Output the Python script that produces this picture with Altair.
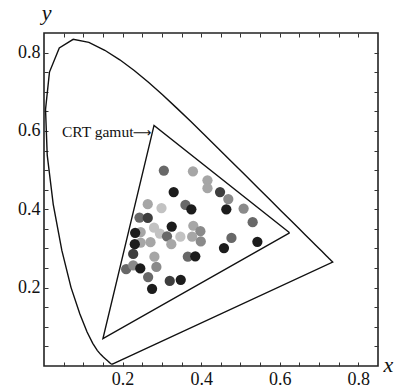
import altair as alt
import pandas as pd

# CIE 1931 spectral locus (380-700 nm, 5 nm steps), closed by the line of purples
locus_x = [0.1741, 0.1740, 0.1738, 0.1736, 0.1733, 0.1730, 0.1726, 0.1721, 0.1714, 0.1703,
           0.1689, 0.1669, 0.1644, 0.1611, 0.1566, 0.1510, 0.1440, 0.1355, 0.1241, 0.1096,
           0.0913, 0.0687, 0.0454, 0.0235, 0.0082, 0.0039, 0.0139, 0.0389, 0.0743, 0.1142,
           0.1547, 0.1929, 0.2296, 0.2658, 0.3016, 0.3373, 0.3731, 0.4087, 0.4441, 0.4788,
           0.5125, 0.5448, 0.5752, 0.6029, 0.6270, 0.6482, 0.6658, 0.6801, 0.6915, 0.7006,
           0.7079, 0.7140, 0.7190, 0.7230, 0.7260, 0.7283, 0.7300, 0.7311, 0.7320, 0.7327,
           0.7334, 0.7340, 0.7344, 0.7346, 0.7347]
locus_y = [0.0050, 0.0050, 0.0049, 0.0049, 0.0048, 0.0048, 0.0048, 0.0048, 0.0051, 0.0058,
           0.0069, 0.0086, 0.0109, 0.0138, 0.0177, 0.0227, 0.0297, 0.0399, 0.0578, 0.0868,
           0.1327, 0.2007, 0.2950, 0.4127, 0.5384, 0.6548, 0.7502, 0.8120, 0.8338, 0.8262,
           0.8059, 0.7816, 0.7543, 0.7243, 0.6923, 0.6589, 0.6245, 0.5896, 0.5547, 0.5202,
           0.4866, 0.4544, 0.4242, 0.3965, 0.3725, 0.3514, 0.3340, 0.3197, 0.3083, 0.2993,
           0.2920, 0.2859, 0.2809, 0.2770, 0.2740, 0.2717, 0.2700, 0.2689, 0.2680, 0.2673,
           0.2666, 0.2660, 0.2656, 0.2654, 0.2653]

# CRT gamut triangle (R, G, B)
crt_x = [0.625, 0.280, 0.150]
crt_y = [0.340, 0.614, 0.070]

# sample points and their grey level (1 = darkest)
dot_x = [0.305, 0.379, 0.416, 0.416, 0.330, 0.448, 0.469, 0.264, 0.299, 0.360,
         0.375, 0.464, 0.508, 0.243, 0.264, 0.531, 0.280, 0.325, 0.380, 0.398,
         0.246, 0.232, 0.295, 0.313, 0.347, 0.377, 0.399, 0.477, 0.324, 0.271,
         0.246, 0.231, 0.458, 0.543, 0.227, 0.281, 0.366, 0.385, 0.209, 0.227,
         0.245, 0.286, 0.265, 0.320, 0.348, 0.275]
dot_y = [0.499, 0.497, 0.474, 0.454, 0.444, 0.444, 0.426, 0.413, 0.403, 0.411,
         0.400, 0.400, 0.402, 0.379, 0.378, 0.367, 0.353, 0.356, 0.358, 0.344,
         0.342, 0.340, 0.338, 0.331, 0.330, 0.330, 0.318, 0.327, 0.311, 0.316,
         0.315, 0.311, 0.301, 0.317, 0.286, 0.279, 0.279, 0.280, 0.247, 0.257,
         0.249, 0.253, 0.227, 0.217, 0.220, 0.197]
dot_level = [3, 5, 5, 5, 1, 2, 4, 5, 6, 3,
             1, 1, 4, 3, 2, 3, 6, 1, 5, 4,
             5, 1, 6, 3, 6, 5, 4, 3, 5, 5,
             5, 1, 1, 1, 2, 5, 3, 1, 3, 4,
             1, 4, 3, 2, 1, 1]

label_text = ["CRT gamut"]
arrow_text = ["\u27f6"]
label_x = [0.271]
label_y = [0.598]

tick_vals = [round(0.05 * i, 2) for i in range(1, 17)]

locus_df = pd.DataFrame({"x": locus_x + locus_x[:1], "y": locus_y + locus_y[:1],
                         "o": list(range(len(locus_x) + 1))})
crt_df = pd.DataFrame({"x": crt_x + crt_x[:1], "y": crt_y + crt_y[:1], "o": list(range(4))})
dots_df = pd.DataFrame({"x": dot_x, "y": dot_y, "level": dot_level, "i": list(range(len(dot_x)))})
label_df = pd.DataFrame({"x": label_x, "y": label_y, "t": label_text, "a": arrow_text})

FONT = "Liberation Serif"
xs = alt.Scale(domain=[0, 0.85], nice=False, zero=False)
ys = alt.Scale(domain=[0, 0.85], nice=False, zero=False)
lab_expr = "(round(datum.value*100) % 20 == 0) ? format(datum.value, '.1f') : ''"

x_bottom = alt.Axis(orient="bottom", values=tick_vals, offset=-4, tickSize=4, domain=False,
                    grid=False, labelExpr=lab_expr, labelPadding=4, labelFont=FONT,
                    labelFontSize=18, labelColor="#111", tickColor="#333", labelFlush=False,
                    title="x", titleFont=FONT, titleFontStyle="italic", titleFontWeight="normal",
                    titleFontSize=22, titleX=339, titleY=9, titleAlign="left",
                    titleBaseline="alphabetic", titleColor="#111")
y_left = alt.Axis(orient="left", values=tick_vals, offset=-4, tickSize=4, domain=False,
                  grid=False, labelExpr=lab_expr, labelPadding=4, labelFont=FONT,
                  labelFontSize=18, labelColor="#111", tickColor="#333", labelFlush=False,
                  title="y", titleFont=FONT, titleFontStyle="italic", titleFontWeight="normal",
                  titleFontSize=22, titleAngle=0, titleX=-2, titleY=-14, titleAlign="center",
                  titleBaseline="alphabetic", titleColor="#111")
x_top = alt.Axis(orient="top", values=tick_vals, offset=-4, tickSize=4, domain=False,
                 grid=False, labels=False, title=None, tickColor="#333")
y_right = alt.Axis(orient="right", values=tick_vals, offset=-4, tickSize=4, domain=False,
                   grid=False, labels=False, title=None, tickColor="#333")

locus = alt.Chart(locus_df).mark_line(color="#111", strokeWidth=1.4).encode(
    x=alt.X("x:Q", scale=xs, axis=x_bottom),
    y=alt.Y("y:Q", scale=ys, axis=y_left),
    order="o:Q",
)

frame_ticks = alt.Chart(dots_df).mark_point(opacity=0).encode(
    x=alt.X("x:Q", scale=xs, axis=x_top),
    y=alt.Y("y:Q", scale=ys, axis=y_right),
)

crt = alt.Chart(crt_df).mark_line(color="#111", strokeWidth=1.4).encode(
    x=alt.X("x:Q", scale=xs, axis=None),
    y=alt.Y("y:Q", scale=ys, axis=None),
    order="o:Q",
)

dots = alt.Chart(dots_df).mark_circle(size=105, opacity=1).encode(
    x=alt.X("x:Q", scale=xs, axis=None),
    y=alt.Y("y:Q", scale=ys, axis=None),
    color=alt.Color("level:O", legend=None,
                    scale=alt.Scale(domain=[1, 2, 3, 4, 5, 6],
                                    range=["#1c1c1c", "#3e3e3e", "#686868", "#8a8a8a",
                                           "#a6a6a6", "#c2c2c2"])),
    order="i:Q",
)

label = alt.Chart(label_df).mark_text(font=FONT, fontSize=15.5, align="right",
                                      baseline="middle", color="#111", dx=-17).encode(
    x=alt.X("x:Q", scale=xs, axis=None),
    y=alt.Y("y:Q", scale=ys, axis=None),
    text="t:N",
)

arrow = alt.Chart(label_df).mark_text(font="DejaVu Sans", fontSize=13, align="right",
                                      baseline="middle", color="#111", dx=1, dy=1).encode(
    x=alt.X("x:Q", scale=xs, axis=None),
    y=alt.Y("y:Q", scale=ys, axis=None),
    text="a:N",
)

chart = alt.layer(locus, frame_ticks, crt, dots, label, arrow).resolve_axis(
    x="independent", y="independent"
).properties(
    width=334, height=333,
    autosize=alt.AutoSizeParams(type="none"),
    padding={"left": 44, "top": 33, "right": 18, "bottom": 26},
    background="white",
).configure_view(stroke="#222", strokeWidth=1.6)

chart.save("out.html", embed_options={"renderer": "svg", "actions": False})
